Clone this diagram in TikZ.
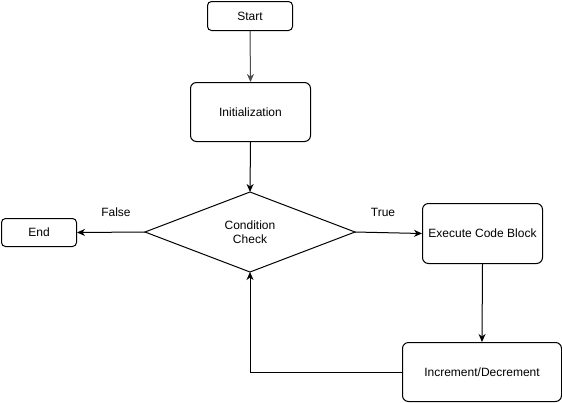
\documentclass[tikz,border=0pt]{standalone}
\usepackage{fontspec}
\setmainfont{Liberation Sans}
\usetikzlibrary{shapes.geometric,arrows.meta}
\begin{document}
\begin{tikzpicture}[x=1pt,y=-1pt,
  every node/.style={font=\fontsize{12}{13.5}\selectfont},
  box/.style={draw,line width=1pt,rounded corners=6pt,inner sep=0pt,anchor=north west},
  arr/.style={draw,line width=1pt,-{Stealth[length=8pt,width=7pt,inset=2.5pt]}},
  lbl/.style={inner sep=0pt}]
\useasboundingbox (0,0) rectangle (562,402);
\node[box,minimum width=85pt,minimum height=29pt,rounded corners=4pt] (start) at (207,1) {Start};
\node[box,minimum width=120pt,minimum height=59pt] (init) at (190,82) {Initialization};
\coordinate (dc) at (250,232);
\draw[line width=1pt] (145,232) coordinate (dl) -- (250,192) coordinate (dt) -- (355,232) coordinate (dr) -- (250,272) coordinate (db) -- cycle;
\node[lbl,align=center] (cond) at (dc) {Condition\\[1pt]Check};
\node[box,minimum width=75pt,minimum height=28pt,rounded corners=4pt] (end) at (1,218) {End};
\node[box,minimum width=120pt,minimum height=60pt] (exec) at (422,203) {Execute Code Block};
\node[box,minimum width=159pt,minimum height=59pt] (inc) at (402,342) {Increment/Decrement};
\draw[arr,draw=black!70,fill=black] (start.south) -- (init.north);
\draw[arr] (init.south) -- (dt);
\draw[arr] (dl) -- (end.east);
\draw[arr] (dr) -- (exec.west);
\draw[arr] (exec.south) -- (inc.north);
\draw[arr] (inc.west) -- (db |- inc.west) -- (db);
\node[lbl] (false) at (116,212) {False};
\node[lbl] (true) at (383,212) {True};
\end{tikzpicture}
\end{document}
